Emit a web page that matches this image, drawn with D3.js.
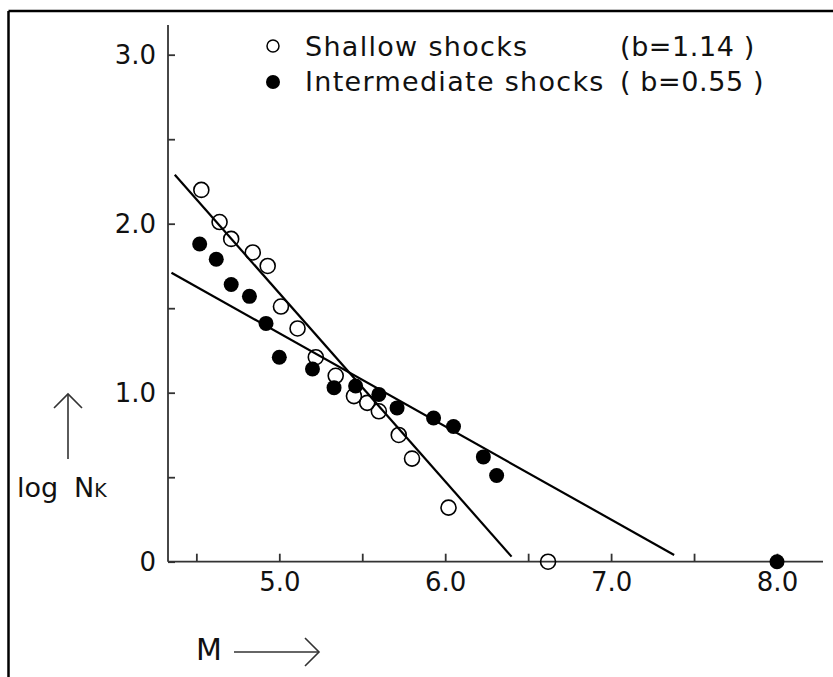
<!DOCTYPE html>
<html>
<head>
<meta charset="utf-8">
<script src="https://cdn.jsdelivr.net/npm/d3@7"></script>
<style>
  html, body { margin: 0; padding: 0; background: #fff; }
  svg { display: block; }
  text { font-family: "DejaVu Sans", sans-serif; fill: #111; }
</style>
</head>
<body>
<svg id="chart" width="833" height="677"></svg>
<script>
// ---- data ----
const shallowM   = [4.53, 4.64, 4.71, 4.84, 4.93, 5.01, 5.11, 5.22, 5.34, 5.45, 5.53, 5.60, 5.72, 5.80, 6.02, 6.62];
const shallowLog = [2.20, 2.01, 1.91, 1.83, 1.75, 1.51, 1.38, 1.21, 1.10, 0.98, 0.94, 0.89, 0.75, 0.61, 0.32, 0.00];
const interM     = [4.52, 4.62, 4.71, 4.82, 4.92, 5.00, 5.20, 5.33, 5.46, 5.60, 5.71, 5.93, 6.05, 6.23, 6.31, 8.00];
const interLog   = [1.88, 1.79, 1.64, 1.57, 1.41, 1.21, 1.14, 1.03, 1.04, 0.99, 0.91, 0.85, 0.80, 0.62, 0.51, 0.00];
// fitted lines (end points)
const shallowFitM   = [4.37, 6.40];
const shallowFitLog = [2.29, 0.03];
const interFitM     = [4.35, 7.38];
const interFitLog   = [1.71, 0.04];
const xTickValues = [4.5, 5.0, 5.5, 6.0, 6.5, 7.0, 7.5, 8.0];
const xTickLabels = ["", "5.0", "", "6.0", "", "7.0", "", "8.0"];
const yTickValues = [0, 0.5, 1.0, 1.5, 2.0, 2.5, 3.0];
const yTickLabels = ["0", "", "1.0", "", "2.0", "", "3.0"];
const legendNames = ["Shallow shocks", "Intermediate shocks"];
const legendB     = ["(b=1.14 )", "( b=0.55 )"];

// ---- scales ----
const svg = d3.select("#chart");
const x = d3.scaleLinear().domain([5, 8]).range([279.3, 777]);
const y = d3.scaleLinear().domain([0, 3]).range([561.7, 54.7]);
const xMin = x.invert(168), xMax = x.invert(823);
const yMax = y.invert(25);

// frame (top and left edges visible in the reference)
svg.append("line").attr("x1", 8.5).attr("x2", 833).attr("y1", 11).attr("y2", 11)
  .attr("stroke", "#000").attr("stroke-width", 2.5);
svg.append("line").attr("x1", 8.5).attr("x2", 8.5).attr("y1", 11).attr("y2", 677)
  .attr("stroke", "#000").attr("stroke-width", 2.5);

// ---- axes ----
const axisColor = "#333";
const yAxis = d3.axisLeft(y).tickValues(yTickValues)
  .tickFormat((d, i) => yTickLabels[i]).tickSizeInner(-7).tickSizeOuter(0).tickPadding(12);
const gy = svg.append("g").attr("transform", `translate(${x(xMin)},0)`).call(yAxis);
gy.select(".domain").remove();
gy.selectAll(".tick line").attr("stroke", axisColor).attr("stroke-width", 1.8);
gy.selectAll(".tick text").attr("font-size", 26).attr("font-family", "DejaVu Sans").attr("fill", "#111");
gy.append("line").attr("x1", 0).attr("x2", 0).attr("y1", y(0)).attr("y2", y(yMax))
  .attr("stroke", axisColor).attr("stroke-width", 1.8);

const xAxis = d3.axisBottom(x).tickValues(xTickValues)
  .tickFormat((d, i) => xTickLabels[i]).tickSizeInner(-8).tickSizeOuter(0).tickPadding(11);
const gx = svg.append("g").attr("transform", `translate(0,${y(0)})`).call(xAxis);
gx.select(".domain").remove();
gx.selectAll(".tick line").attr("stroke", axisColor).attr("stroke-width", 1.8);
gx.selectAll(".tick text").attr("font-size", 26).attr("font-family", "DejaVu Sans").attr("fill", "#111");
gx.append("line").attr("x1", x(xMin)).attr("x2", x(xMax)).attr("y1", 0).attr("y2", 0)
  .attr("stroke", axisColor).attr("stroke-width", 1.8);

// ---- fitted lines ----
const line = d3.line().x(d => x(d[0])).y(d => y(d[1]));
svg.append("path").datum(d3.zip(shallowFitM, shallowFitLog)).attr("d", line)
  .attr("fill", "none").attr("stroke", "#000").attr("stroke-width", 2.2);
svg.append("path").datum(d3.zip(interFitM, interFitLog)).attr("d", line)
  .attr("fill", "none").attr("stroke", "#000").attr("stroke-width", 2.2);

// ---- points ----
svg.append("g").selectAll("circle").data(d3.zip(shallowM, shallowLog)).join("circle")
  .attr("cx", d => x(d[0])).attr("cy", d => y(d[1])).attr("r", 7.5)
  .attr("fill", "none").attr("stroke", "#000").attr("stroke-width", 1.6);
svg.append("g").selectAll("circle").data(d3.zip(interM, interLog)).join("circle")
  .attr("cx", d => x(d[0])).attr("cy", d => y(d[1])).attr("r", 7.5)
  .attr("fill", "#000");

// ---- legend ----
const lg = svg.append("g");
lg.append("circle").attr("cx", 273).attr("cy", 46).attr("r", 6)
  .attr("fill", "none").attr("stroke", "#000").attr("stroke-width", 1.5);
lg.append("circle").attr("cx", 273).attr("cy", 82).attr("r", 7).attr("fill", "#000");
[0, 1].forEach(i => {
  lg.append("text").attr("x", 305).attr("y", 56 + i * 35).attr("font-size", 27)
    .attr("letter-spacing", 1.3).text(legendNames[i]);
  lg.append("text").attr("x", 620).attr("y", 56 + i * 35).attr("font-size", 27)
    .attr("letter-spacing", 0.6).text(legendB[i]);
});

// ---- axis titles with arrows ----
svg.append("text").attr("x", 17).attr("y", 497).attr("font-size", 27).text("log");
svg.append("text").attr("x", 74).attr("y", 497).attr("font-size", 27)
  .text("N").append("tspan").attr("font-size", 19).attr("dy", 0).text("K");
const arrowStroke = "#333";
svg.append("line").attr("x1", 68).attr("x2", 68).attr("y1", 459).attr("y2", 394)
  .attr("stroke", arrowStroke).attr("stroke-width", 1.6);
svg.append("path").attr("d", "M54,408 L68,394 L82,408")
  .attr("fill", "none").attr("stroke", arrowStroke).attr("stroke-width", 1.6);

svg.append("text").attr("x", 196).attr("y", 660).attr("font-size", 30).text("M");
svg.append("line").attr("x1", 234).attr("x2", 319).attr("y1", 652).attr("y2", 652)
  .attr("stroke", arrowStroke).attr("stroke-width", 1.6);
svg.append("path").attr("d", "M305,638 L319,652 L305,666")
  .attr("fill", "none").attr("stroke", arrowStroke).attr("stroke-width", 1.6);
</script>
</body>
</html>
